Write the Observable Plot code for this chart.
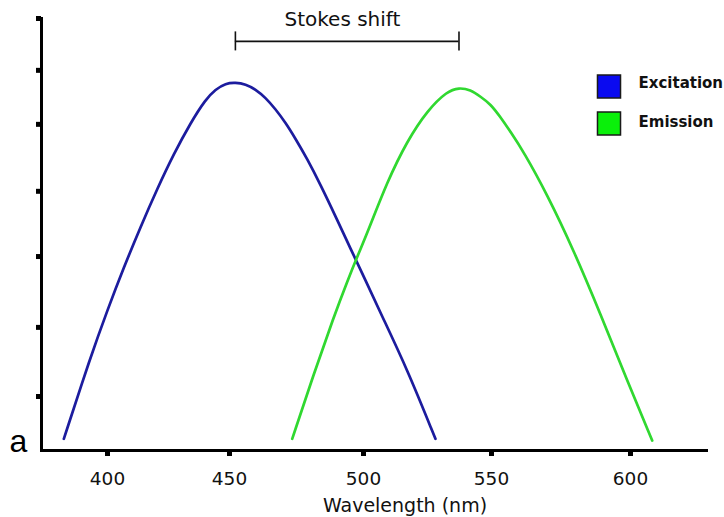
<!DOCTYPE html>
<html><head><meta charset="utf-8">
<script src="https://cdn.jsdelivr.net/npm/d3@7"></script>
<script src="https://cdn.jsdelivr.net/npm/@observablehq/plot@0.6"></script>
<style>body{margin:0;background:#fff}</style>
</head><body><div id="chart"></div>
<script>
// ---- data ----
const xTicks = [400, 450, 500, 550, 600];
const yTicks = [0.125, 0.285, 0.449, 0.600, 0.755, 0.880, 1.0];
const seriesNames = ["Excitation", "Emission"];
const excWl  = [382.1, 393.0, 399.9, 406.7, 413.5, 420.4, 427.2, 434.0, 440.2, 444.3, 448.4, 452.2, 456.0, 459.7, 463.4, 467.2, 470.9, 474.6, 478.9, 483.9, 490.1, 495.1, 500.8, 506.6, 517.1, 528.1];
const excVal = [0.027, 0.216, 0.324, 0.424, 0.517, 0.606, 0.687, 0.758, 0.813, 0.836, 0.850, 0.852, 0.848, 0.836, 0.817, 0.790, 0.759, 0.722, 0.676, 0.616, 0.535, 0.468, 0.394, 0.319, 0.188, 0.027];
const emWl   = [473.4, 481.5, 488.9, 493.9, 498.3, 501.4, 509.3, 517.1, 524.9, 532.7, 537.3, 541.8, 545.7, 549.6, 553.2, 556.8, 561.6, 570.0, 579.6, 589.2, 598.8, 607.8];
const emVal  = [0.027, 0.178, 0.309, 0.391, 0.458, 0.502, 0.623, 0.717, 0.787, 0.832, 0.840, 0.835, 0.819, 0.802, 0.772, 0.738, 0.691, 0.593, 0.463, 0.316, 0.162, 0.023];
const stokesLabel = "Stokes shift";
const xLabel = "Wavelength (nm)";
const panelLabel = "a";
const stokesLevel = 0.947;
const stokesCap = 0.022;

// ---- styling ----
const lineColors = ["#1c1c9e", "#30d830"];
const swatchColors = ["#0a0af0", "#0af00a"];
const font = "'DejaVu Sans', Verdana, sans-serif";

const exc = excWl.map((x, i) => ({series: seriesNames[0], x, y: excVal[i]}));
const em  = emWl.map((x, i) => ({series: seriesNames[1], x, y: emVal[i]}));
const excPeak = d3.greatest(exc, d => d.y).x;
const emPeak  = d3.greatest(em, d => d.y).x;

const legendMarks = seriesNames.flatMap((name, i) => [
  Plot.dot([name], {frameAnchor: "top-right", dx: -99.5, dy: 68 + 37 * i, symbol: "square", r: 13,
    fill: swatchColors[i], stroke: "#1a1a1a", strokeWidth: 1.5}),
  Plot.text([name], {frameAnchor: "top-right", dx: -70, dy: 65 + 39 * i, text: d => d,
    textAnchor: "start", lineAnchor: "middle", fontWeight: "bold", fontSize: 15, fill: "#111"})
]);

const chart = Plot.plot({
  width: 724, height: 517,
  marginLeft: 41, marginRight: 16, marginTop: 18, marginBottom: 67,
  style: {fontFamily: font, background: "#fff", color: "#111"},
  x: {type: "linear", domain: xTicks, range: [107, 229, 363, 491, 630]},
  y: {domain: [0, 1]},
  marks: [
    Plot.line(exc, {x: "x", y: "y", stroke: lineColors[0], strokeWidth: 2.7, curve: "basis"}),
    Plot.line(em,  {x: "x", y: "y", stroke: lineColors[1], strokeWidth: 2.7, curve: "basis"}),
    Plot.ruleY([0], {stroke: "#000", strokeWidth: 3}),
    Plot.frame({anchor: "left", stroke: "#000", strokeWidth: 3}),
    Plot.axisX({ticks: xTicks, tickSize: 6, tickPadding: 15, strokeWidth: 5, stroke: "#000",
      fontSize: 18.5, tickFormat: d => String(d), label: null}),
    Plot.axisY({ticks: yTicks, tickSize: 5, strokeWidth: 5, stroke: "#000", tickFormat: () => "", label: null}),
    Plot.text([xLabel], {frameAnchor: "bottom", dx: 30, dy: 55, text: d => d, lineAnchor: "middle", fontSize: 19, fill: "#111"}),
    Plot.text([panelLabel], {frameAnchor: "bottom-left", dx: -23, dy: 1, text: d => d, textAnchor: "middle",
      lineAnchor: "bottom", fontSize: 32, fontFamily: "'Liberation Sans', Arial, sans-serif", fill: "#000"}),
    Plot.ruleY([{x1: excPeak, x2: emPeak, y: stokesLevel}], {x1: "x1", x2: "x2", y: "y", stroke: "#111", strokeWidth: 1.6}),
    Plot.ruleX([excPeak, emPeak], {x: d => d, y1: stokesLevel - stokesCap, y2: stokesLevel + stokesCap, stroke: "#111", strokeWidth: 1.6}),
    Plot.text([stokesLabel], {x: (excPeak + emPeak) / 2, y: stokesLevel, dx: -7, dy: -22, text: d => d,
      lineAnchor: "middle", fontSize: 20, fill: "#111"}),
    ...legendMarks
  ]
});
document.getElementById("chart").append(chart);
</script>
</body></html>
